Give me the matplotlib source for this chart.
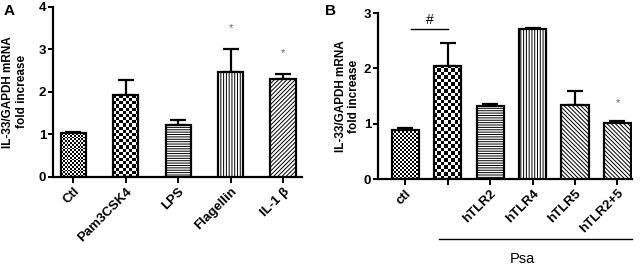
import numpy as np
import matplotlib.pyplot as plt
from matplotlib.transforms import blended_transform_factory

plt.rcParams['font.family'] = ['Liberation Sans', 'DejaVu Sans']
plt.rcParams['hatch.linewidth'] = 0.7

# panel A data
a_labels = ["Ctl", "Pam3CSK4", "LPS", "Flagellin", "IL-1 \u03b2"]
a_means = [1.03, 1.92, 1.23, 2.47, 2.31]
a_err = [0.02, 0.37, 0.10, 0.54, 0.12]
a_star = [None, None, None, 3.5, 2.92]

# panel B data
b_labels = ["ctl", "", "hTLR2", "hTLR4", "hTLR5", "hTLR2+5"]
b_means = [0.89, 2.05, 1.32, 2.72, 1.33, 1.01]
b_err = [0.04, 0.41, 0.04, 0.02, 0.26, 0.04]
b_star = [None, None, None, None, None, 1.37]

# fill style per bar: ("checker", cells across) or hatch string
a_fill = [("checker", 14), ("checker", 8), "-------", "||||||", "////////"]
b_fill = [("checker", 14), ("checker", 8), "-------", "||||||", "\\\\\\\\\\\\\\\\", "\\\\\\\\\\\\\\\\"]


def draw_panel(ax, labels, means, err, stars, fills, width, xlim, ylim, yticks):
    ax.set_xlim(*xlim)
    ax.set_ylim(*ylim)
    x = np.arange(len(means))
    bars = ax.bar(x, means, width, color="white", edgecolor="black", linewidth=1.6, zorder=3)
    ax.errorbar(x, means, yerr=[np.zeros(len(err)), err], fmt="none", ecolor="black",
                elinewidth=1.6, capsize=6, capthick=1.6, zorder=2)
    bb = ax.get_window_extent()
    for b, f in zip(bars, fills):
        if isinstance(f, tuple):
            n = f[1]
            b.set_facecolor("none")
            x0, w, h = b.get_x(), b.get_width(), b.get_height()
            px_w = w / (xlim[1] - xlim[0]) * bb.width
            px_h = h / (ylim[1] - ylim[0]) * bb.height
            m = max(1, int(round(n * px_h / px_w)))
            board = (np.add.outer(np.arange(m), np.arange(n)) % 2).astype(float)
            im = ax.imshow(board, cmap="gray", extent=(x0, x0 + w, 0, h), aspect="auto",
                           interpolation="nearest", zorder=2.5, vmin=0, vmax=1)
            im.set_clip_path(b)
        else:
            b.set_hatch(f)
    for xi, s in zip(x, stars):
        if s is not None:
            ax.text(xi, s, "*", ha="center", va="center", fontsize=8, color="#666666")
    ax.set_xlim(*xlim)
    ax.set_ylim(*ylim)
    ax.set_yticks(yticks)
    ax.set_xticks(x)
    ax.set_xticklabels(labels, rotation=45, ha="right", rotation_mode="anchor",
                       fontsize=9.5, fontweight="bold")
    for t in ax.get_yticklabels():
        t.set_fontweight("bold")
        t.set_fontsize(9.5)
    ax.spines["top"].set_visible(False)
    ax.spines["right"].set_visible(False)
    ax.spines["left"].set_linewidth(1.6)
    ax.spines["bottom"].set_linewidth(1.6)
    ax.tick_params(axis="y", width=1.4, length=3.5, pad=1.5)
    ax.tick_params(axis="x", width=1.4, length=4, pad=2)
    ax.set_ylabel("IL-33/GAPDH mRNA\nfold increase", fontsize=8.5, fontweight="bold")


fig = plt.figure(figsize=(6.4, 2.68), dpi=100)
axA = fig.add_axes([0.083, 0.340, 0.389, 0.634])
axB = fig.add_axes([0.591, 0.332, 0.397, 0.619])

draw_panel(axA, a_labels, a_means, a_err, a_star, a_fill, 0.48, (-0.385, 4.365), (0, 4), [0, 1, 2, 3, 4])
draw_panel(axB, b_labels, b_means, b_err, b_star, b_fill, 0.64, (-0.64, 5.35), (0, 3), [0, 1, 2, 3])
axA.yaxis.set_label_coords(-0.1, 0.5)
axB.yaxis.set_label_coords(-0.07, 0.5)

# significance bar over ctl vs Psa
axB.plot([0.14, 1.01], [2.72, 2.72], color="black", lw=1.0, clip_on=False)
axB.text(0.57, 2.87, "#", ha="center", va="center", fontsize=10)

# Psa group line below tick labels
tr = blended_transform_factory(axB.transData, axB.transAxes)
axB.plot([0.8, 5.35], [-0.36, -0.36], color="black", lw=1.0, transform=tr, clip_on=False)
axB.text(2.76, -0.48, "Psa", ha="center", va="center", fontsize=10.5, transform=tr)

fig.text(0.006, 0.985, "A", fontsize=11, fontweight="bold", va="top")
fig.text(0.508, 0.985, "B", fontsize=11, fontweight="bold", va="top")

fig.savefig("out.png", dpi=100)
